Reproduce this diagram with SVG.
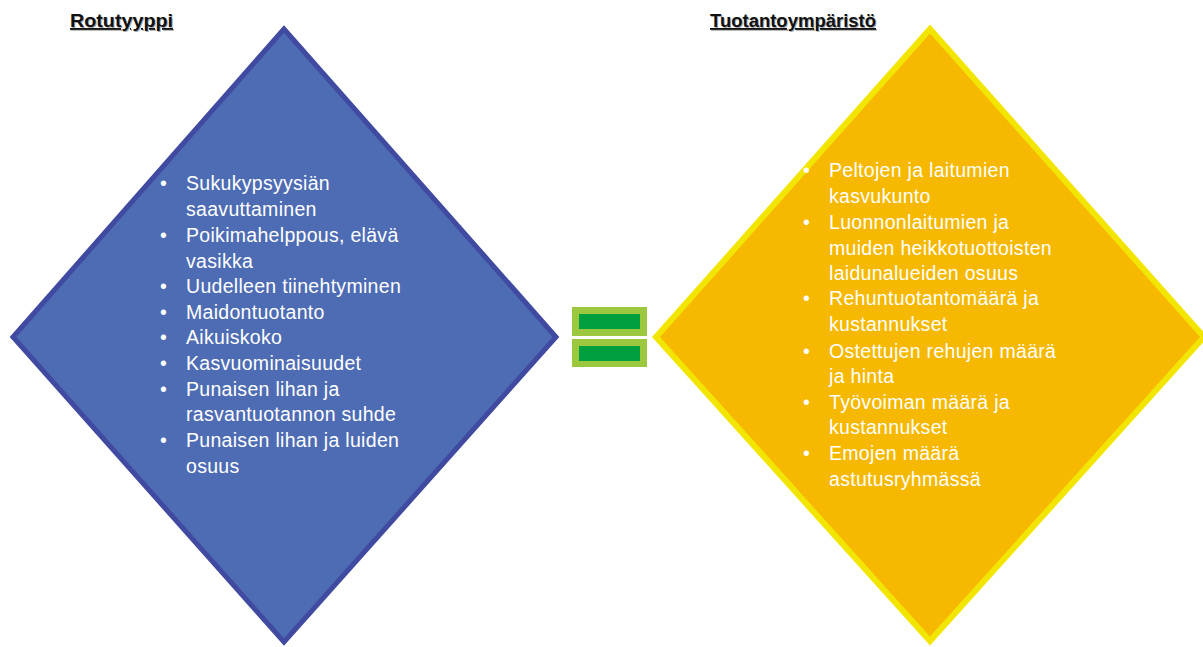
<svg xmlns="http://www.w3.org/2000/svg" width="1203" height="647" viewBox="0 0 1203 647">
<defs>
<style>
.title{font-family:"Liberation Sans",Arial,sans-serif;font-weight:bold;font-size:18px;fill:#111;text-decoration:underline}
.shadow{font-family:"Liberation Sans",Arial,sans-serif;font-weight:bold;font-size:18px;fill:#aaa;text-decoration:underline}
.item{font-family:"Liberation Sans",Arial,sans-serif;font-size:19.5px;letter-spacing:0.3px;fill:#ffffff}
.blue{fill:#4E6CB4;stroke:#3F4AA0;stroke-width:5;stroke-linejoin:miter}
.yellow{fill:#F6B800;stroke:#F2E600;stroke-width:6;stroke-linejoin:miter}
.eqo{fill:#9BC83F}
.eqi{fill:#00A040}
</style>
</defs>
<rect width="1203" height="647" fill="#ffffff"/>
<g id="title-rotutyyppi">
<text class="shadow" x="71" y="28" textLength="103" lengthAdjust="spacingAndGlyphs">Rotutyyppi</text>
<text class="title" x="70" y="27" textLength="103" lengthAdjust="spacingAndGlyphs">Rotutyyppi</text>
</g>
<g id="title-tuotantoymparisto">
<text class="shadow" x="711" y="28" textLength="166" lengthAdjust="spacingAndGlyphs">Tuotantoympäristö</text>
<text class="title" x="710" y="27" textLength="166" lengthAdjust="spacingAndGlyphs">Tuotantoympäristö</text>
</g>
<g id="node-rotutyyppi">
<polygon class="blue" points="284,29 13,337 284,642 556,337"/>
<g class="item">
<text x="160" y="190">•</text><text x="186" y="190">Sukukypsyysiän</text>
<text x="186" y="216">saavuttaminen</text>
<text x="160" y="242">•</text><text x="186" y="242">Poikimahelppous, elävä</text>
<text x="186" y="268">vasikka</text>
<text x="160" y="293">•</text><text x="186" y="293">Uudelleen tiinehtyminen</text>
<text x="160" y="319">•</text><text x="186" y="319">Maidontuotanto</text>
<text x="160" y="344">•</text><text x="186" y="344">Aikuiskoko</text>
<text x="160" y="370">•</text><text x="186" y="370">Kasvuominaisuudet</text>
<text x="160" y="396">•</text><text x="186" y="396">Punaisen lihan ja</text>
<text x="186" y="421">rasvantuotannon suhde</text>
<text x="160" y="447">•</text><text x="186" y="447">Punaisen lihan ja luiden</text>
<text x="186" y="473">osuus</text>
</g>
</g>
<g id="node-equals">
<rect class="eqo" x="572" y="307" width="75" height="29"/>
<rect class="eqi" x="579" y="314" width="61" height="15"/>
<rect class="eqo" x="572" y="339" width="75" height="28"/>
<rect class="eqi" x="579" y="346" width="61" height="15"/>
</g>
<g id="node-tuotantoymparisto">
<polygon class="yellow" points="930,29 656,337 930,641 1204,337"/>
<g class="item">
<text x="803" y="177">•</text><text x="829" y="177">Peltojen ja laitumien</text>
<text x="829" y="203">kasvukunto</text>
<text x="803" y="229">•</text><text x="829" y="229">Luonnonlaitumien ja</text>
<text x="829" y="255">muiden heikkotuottoisten</text>
<text x="829" y="280">laidunalueiden osuus</text>
<text x="803" y="305">•</text><text x="829" y="305">Rehuntuotantomäärä ja</text>
<text x="829" y="331">kustannukset</text>
<text x="803" y="358">•</text><text x="829" y="358">Ostettujen rehujen määrä</text>
<text x="829" y="383">ja hinta</text>
<text x="803" y="409">•</text><text x="829" y="409">Työvoiman määrä ja</text>
<text x="829" y="434">kustannukset</text>
<text x="803" y="460">•</text><text x="829" y="460">Emojen määrä</text>
<text x="829" y="486">astutusryhmässä</text>
</g>
</g>
<g id="connectors"></g>
</svg>
